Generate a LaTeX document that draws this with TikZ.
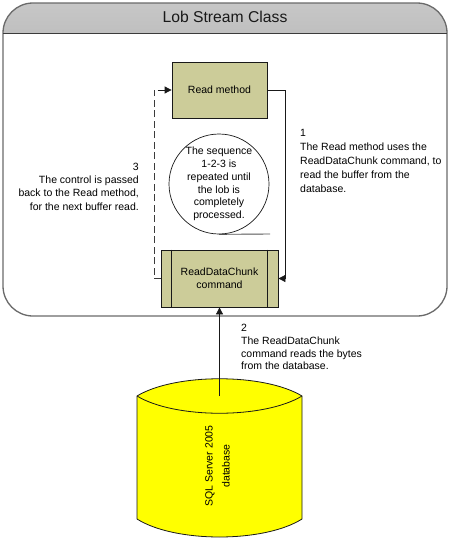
\documentclass[tikz,border=0pt]{standalone}
\usepackage{fontspec}
\setmainfont{Liberation Sans}
\usetikzlibrary{arrows.meta,positioning,calc}
\definecolor{boxfill}{RGB}{204,204,153}
\definecolor{dbfill}{RGB}{255,255,0}
\definecolor{linedark}{RGB}{25,25,25}

\begin{document}
\begin{tikzpicture}[
        x=1pt,y=-1pt,
        box/.style={draw=linedark,line width=0.8pt,fill=boxfill,inner sep=0pt,align=center,font=\fontsize{10.5}{13.4}\selectfont},
        note/.style={inner sep=0pt,font=\fontsize{10.5}{13.4}\selectfont},
        arrow/.style={-{Triangle[length=7pt,width=7pt]},draw=linedark,line width=0.8pt}
    ]
        \useasboundingbox (0,0) rectangle (459,541);
        \fill[white] (0,0) rectangle (459,541);

        % Panel
        \begin{scope}
            \clip[rounded corners=30pt] (3,60) -- (3,3) -- (447,3) -- (447,60) -- cycle;
            \shade[top color=black!22,middle color=black!3,bottom color=black!25] (3,3) rectangle (447,33);
        \end{scope}
        \fill[white] (3,33) rectangle (447,60);
        \draw[linedark!65,line width=1.3pt,rounded corners=30pt] (3,33) -- (3,3) -- (447,3) -- (447,33);
        \draw[linedark!65,line width=1.3pt,rounded corners=30pt] (3,33) -- (3,316) -- (447,316) -- (447,33);
        \draw[linedark!85,line width=1pt] (3,33) -- (447,33);
        \node[font=\fontsize{15.7}{18}\selectfont,text=linedark] (title) at (225,17) {Lob Stream Class};

        % Read method
        \node[box,minimum width=95pt,minimum height=56pt] (read) at (219.5,90) {Read method};

        % Sequence note
        \node[draw=linedark,line width=0.7pt,fill=white,circle,minimum size=100pt,inner sep=0pt,align=center,font=\fontsize{10.5}{12.8}\selectfont] (seq) at (219,184) {The sequence\\1-2-3 is\\repeated until\\the lob is\\completely\\processed.};
        \coordinate (seqtail) at (270,234);
        \draw[linedark!75,line width=0.9pt] (seq.south) -- (seqtail);

        % ReadDataChunk command
        \node[box,minimum width=117pt,minimum height=57pt] (chunk) at (219.5,278.5) {ReadDataChunk\\command};
        \draw[linedark,line width=0.8pt] ($(chunk.north west)+(11,0)$) coordinate (barl) -- (barl |- chunk.south);
        \draw[linedark,line width=0.8pt] ($(chunk.north east)+(-11,0)$) coordinate (barr) -- (barr |- chunk.south);

        % Database
        \draw[linedark,fill=dbfill,line width=0.8pt] (137,396) .. controls (175,373) and (264,373) .. (302,396) -- (302,519) .. controls (264,543) and (175,543) .. (137,519) -- cycle;
        \draw[linedark,line width=0.8pt] (137,396) .. controls (175,419) and (264,419) .. (302,396);
        \coordinate (dbtop) at (219.5,396);
        \node[note,rotate=90,align=center,font=\fontsize{10.5}{17}\selectfont] (dblabel) at (217.5,466) {SQL Server 2005\\database};

        % Arrows
        \coordinate (rightturn) at (285,278.5);
        \coordinate (leftturn) at (154,278.5);
        \draw[arrow] (read.east) -| (rightturn) -- (chunk.east);
        \draw[linedark!85,line width=1pt,dash pattern=on 7pt off 3.5pt] (chunk.west) -- (leftturn) |- ($(read.west)+(-14,0)$) coordinate (dashend);
        \draw[arrow] (dashend) -- (read.west);
        \draw[arrow] (dbtop) -- (chunk.south);

        % Step notes
        \node[note,anchor=north west,align=left,font=\fontsize{10.5}{14}\selectfont] (stepone) at (300,129) {1\\The Read method uses the\\ReadDataChunk command, to\\read the buffer from the\\database.};
        \node[note,anchor=north east,align=right] (stepthree) at (139,162.5) {3\\The control is passed\\back to the Read method,\\for the next buffer read.};
        \node[note,anchor=north west,align=left,font=\fontsize{10.5}{12.8}\selectfont] (steptwo) at (241,324) {2\\The ReadDataChunk\\command reads the bytes\\from the database.};
    \end{tikzpicture}
\end{document}
